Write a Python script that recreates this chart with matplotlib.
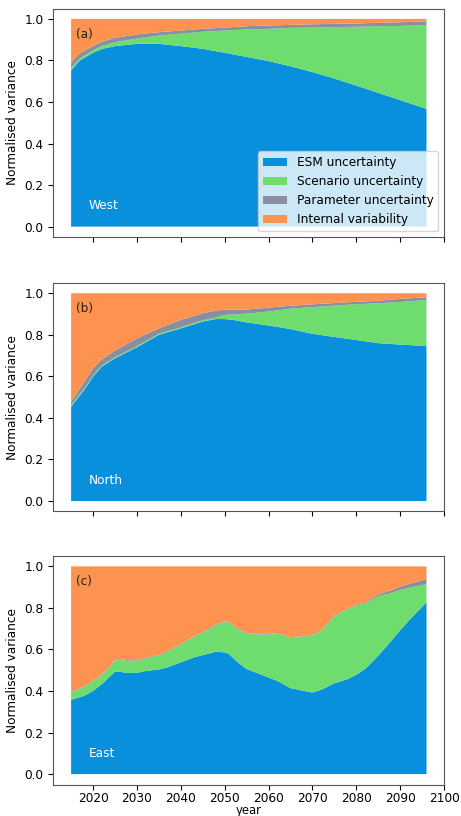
import matplotlib
matplotlib.use("Agg")
import matplotlib.pyplot as plt
import numpy as np

plt.rcParams['font.family'] = ['DejaVu Sans']
plt.rcParams['font.size'] = 8.7

labels = ["ESM uncertainty", "Scenario uncertainty", "Parameter uncertainty", "Internal variability"]
colors = ["#0890dc", "#6edd6e", "#878fa0", "#fe924f"]

# ---- Panel (a) West ----
years_a = [2015, 2017, 2020, 2022, 2025, 2030, 2035, 2040, 2045, 2050, 2055, 2060,
           2065, 2070, 2075, 2080, 2085, 2090, 2096]
esm_a = [0.753, 0.800, 0.837, 0.855, 0.869, 0.880, 0.880, 0.869, 0.856, 0.837, 0.817, 0.797,
         0.772, 0.744, 0.713, 0.679, 0.644, 0.609, 0.567]
scen_a = [0.011, 0.010, 0.011, 0.015, 0.019, 0.025, 0.040, 0.060, 0.082, 0.107, 0.132, 0.155,
          0.185, 0.214, 0.247, 0.283, 0.321, 0.357, 0.403]
param_a = [0.026, 0.025, 0.021, 0.020, 0.021, 0.020, 0.016, 0.015, 0.014, 0.014, 0.016, 0.016,
           0.014, 0.016, 0.016, 0.016, 0.016, 0.018, 0.017]
internal_a = [0.210, 0.165, 0.131, 0.110, 0.091, 0.075, 0.064, 0.056, 0.048, 0.042, 0.035, 0.032,
              0.029, 0.026, 0.024, 0.022, 0.019, 0.016, 0.013]

# ---- Panel (b) North ----
years_b = [2015, 2018, 2020, 2022, 2025, 2030, 2035, 2040, 2045, 2048, 2050, 2052, 2055,
           2060, 2065, 2070, 2075, 2080, 2085, 2090, 2096]
esm_b = [0.454, 0.535, 0.599, 0.647, 0.687, 0.740, 0.800, 0.831, 0.864, 0.876, 0.876, 0.872, 0.860,
         0.845, 0.828, 0.805, 0.790, 0.775, 0.760, 0.753, 0.746]
scen_b = [0.008, 0.006, 0.005, 0.005, 0.005, 0.005, 0.005, 0.005, 0.006, 0.007, 0.020, 0.026, 0.042,
          0.067, 0.098, 0.128, 0.151, 0.172, 0.192, 0.205, 0.222]
param_b = [0.016, 0.034, 0.035, 0.030, 0.032, 0.038, 0.026, 0.036, 0.034, 0.034, 0.024, 0.024, 0.020,
           0.019, 0.014, 0.014, 0.012, 0.012, 0.012, 0.015, 0.013]
internal_b = [0.522, 0.425, 0.361, 0.318, 0.276, 0.217, 0.169, 0.128, 0.096, 0.083, 0.080, 0.078, 0.078,
              0.069, 0.060, 0.053, 0.047, 0.041, 0.036, 0.027, 0.019]

# ---- Panel (c) East ----
years_c = [2015, 2018, 2020, 2022, 2024, 2025, 2026, 2028, 2030, 2032, 2035, 2037, 2040, 2043,
           2045, 2048, 2050, 2051, 2053, 2055, 2058, 2060, 2062, 2065, 2068, 2070, 2072, 2075,
           2078, 2080, 2082, 2085, 2088, 2090, 2093, 2096]
esm_c = [0.358, 0.377, 0.401, 0.433, 0.473, 0.493, 0.493, 0.486, 0.488, 0.496, 0.504, 0.514, 0.538,
         0.562, 0.573, 0.589, 0.586, 0.578, 0.538, 0.506, 0.482, 0.465, 0.449, 0.414, 0.401, 0.393,
         0.406, 0.437, 0.457, 0.478, 0.506, 0.570, 0.642, 0.693, 0.762, 0.827]
scen_c = [0.036, 0.042, 0.046, 0.043, 0.047, 0.054, 0.057, 0.059, 0.059, 0.061, 0.067, 0.075, 0.086,
          0.099, 0.107, 0.128, 0.147, 0.150, 0.158, 0.169, 0.190, 0.207, 0.226, 0.242, 0.260, 0.276,
          0.282, 0.323, 0.336, 0.334, 0.314, 0.287, 0.231, 0.193, 0.140, 0.088]
param_c = [0.003, 0.003, 0.003, 0.003, 0.003, 0.003, 0.003, 0.003, 0.003, 0.003, 0.003, 0.003, 0.003,
           0.003, 0.003, 0.003, 0.003, 0.003, 0.003, 0.003, 0.003, 0.003, 0.003, 0.003, 0.003, 0.003,
           0.003, 0.003, 0.003, 0.004, 0.005, 0.008, 0.012, 0.016, 0.019, 0.024]
internal_c = [1 - (e + s + p) for e, s, p in zip(esm_c, scen_c, param_c)]

panels = [
    ("(a)", "West", years_a, [esm_a, scen_a, param_a, internal_a]),
    ("(b)", "North", years_b, [esm_b, scen_b, param_b, internal_b]),
    ("(c)", "East", years_c, [esm_c, scen_c, param_c, internal_c]),
]

fig = plt.figure(figsize=(4.61, 8.16), dpi=100)
left, width = 0.1157, 0.848
bottoms = [1 - 237 / 816, 1 - 511.4 / 816, 1 - 784.5 / 816]
height = 228.5 / 816

axes = []
for i, (tag, region, yrs, comps) in enumerate(panels):
    ax = fig.add_axes([left, bottoms[i], width, height])
    axes.append(ax)
    ax.stackplot(yrs, *comps, colors=colors, labels=labels, linewidth=0)
    ax.set_xlim(2010.95, 2100.05)
    ax.set_ylim(-0.05, 1.05)
    ax.set_yticks([0.0, 0.2, 0.4, 0.6, 0.8, 1.0])
    ax.set_xticks(range(2020, 2101, 10))
    ax.set_ylabel("Normalised variance")
    ax.text(2016.1, 0.925, tag, ha="left", va="center", color="#222222")
    ax.text(2019.0, 0.1, region, ha="left", va="center", color="white")
    for s in ax.spines.values():
        s.set_color("#555555")
    if i < 2:
        ax.set_xticklabels([])
    else:
        ax.tick_params(axis="x", pad=2)
        ax.set_xlabel("year", labelpad=-0.5, fontsize=8.4)
    if i == 0:
        ax.legend(loc="lower right", framealpha=0.8, borderaxespad=0.5)

fig.savefig("out.png", dpi=100)
